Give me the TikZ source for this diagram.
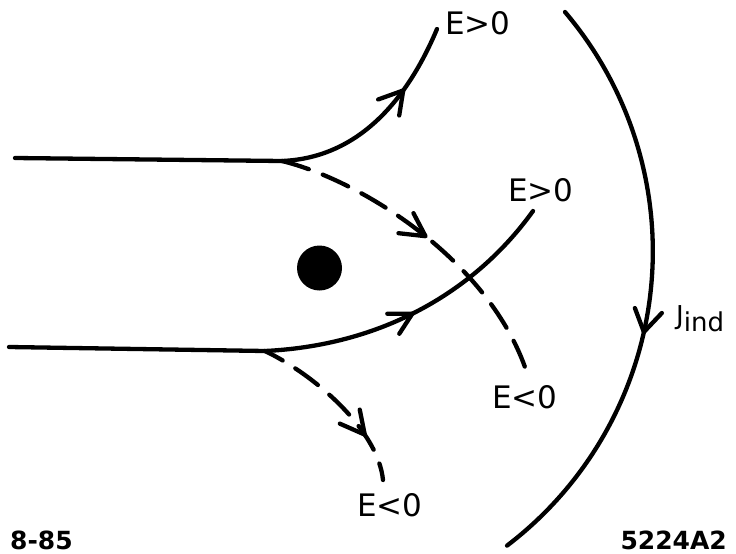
\documentclass[tikz,border=0pt]{standalone}
\usepackage{fontspec}
\setmainfont{DejaVu Sans}
\usetikzlibrary{calc}
\begin{document}
\begin{tikzpicture}[x=1pt,y=-1pt,line width=4.3pt,line cap=round,line join=round,
  lbl/.style={font=\fontsize{31}{36}\selectfont,inner sep=0pt},
  foot/.style={font=\fontsize{25}{30}\selectfont\bfseries,inner sep=0pt},
  dashline/.style={dash pattern=on 28pt off 15pt}]
\useasboundingbox (0,0) rectangle (736,554);
% end points
\coordinate (tl) at (15,158);
\coordinate (tj) at (282,161);
\coordinate (bl) at (9,347);
\coordinate (bj) at (265,351);
\coordinate (tEnd) at (437,29);
\coordinate (mEnd) at (533,211);
\coordinate (dEnd) at (527,373);
\coordinate (lEnd) at (383,480);
\coordinate (ctr) at (282.8,251.3);
% incoming lines
\draw (tl) -- (tj);
\draw (bl) -- (bj);
% upper branch, E>0
\draw (tj) .. controls (355,158) and (405,105) .. (tEnd) coordinate[pos=0.7] (a1);
\draw ($(a1)+(-25,9)$) -- (a1) -- ($(a1)+(-4,25)$);
% upper branch, E<0
\draw[dashline] (tj) .. controls (360,180) and (490,260) .. (dEnd) coordinate[pos=0.52] (a2);
\draw ($(a2)+(-27,-3)$) -- (a2) -- ($(a2)+(-12,-23)$);
% lower branch, E>0
\draw (bj) .. controls (390,345) and (480,285) .. (mEnd) coordinate[pos=0.45] (a3);
\draw ($(a3)+(-25,0)$) -- (a3) -- ($(a3)+(-13,20)$);
% lower branch, E<0
\draw[dashline,dash phase=8pt] (bj) .. controls (315,375) and (378,430) .. (lEnd) coordinate[pos=0.7] (a4);
\draw ($(a4)+(-25,-11)$) -- (a4) -- ($(a4)+(-5,-25)$);
% nucleus
\fill (319.5,268) circle[radius=22.5];
% induced current
\draw (565,12) arc[start angle=-40.3,end angle=52.7,radius=370];
\coordinate (a5) at ($(ctr)+(12.6:370)$);
\draw ($(a5)+(-9,-24)$) -- (a5) -- ($(a5)+(18,-19)$);
% labels
\node[lbl] (l1) at (478,23) {E>0};
\node[lbl] (l2) at (541,190) {E>0};
\node[lbl] (l3) at (525,397) {E<0};
\node[lbl] (l4) at (390,505) {E<0};
\node[inner sep=0pt,anchor=base west,font=\fontsize{26}{30}\selectfont] (lj) at (674,324) {J\raisebox{-7pt}{ind}};
\node[foot,anchor=base west] (f1) at (8,549) {8-85};
\node[foot,anchor=base east] (f2) at (729,549) {5224A2};
\end{tikzpicture}
\end{document}
